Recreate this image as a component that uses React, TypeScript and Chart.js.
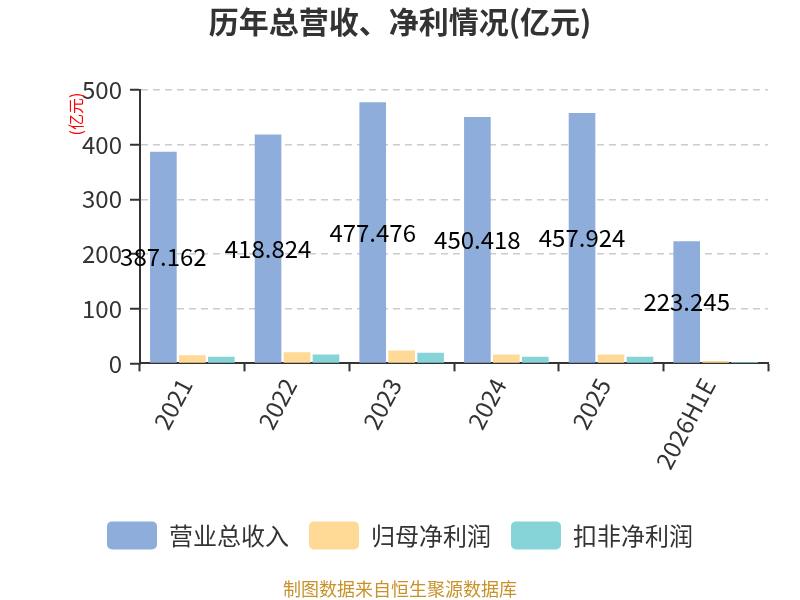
import { useEffect, useRef } from "react"
import { Chart, registerables } from "chart.js"

Chart.register(...registerables)

const FONT = "'Noto Sans CJK SC', 'Noto Sans', sans-serif"

// 年份
const categories = ["2021", "2022", "2023", "2024", "2025", "2026H1E"]
// 营业总收入 (亿元)
const revenue = [387.162, 418.824, 477.476, 450.418, 457.924, 223.245]
// 归母净利润 (亿元，读图估计)
const netProfit = [15.0, 20.6, 23.8, 16.5, 16.5, 4.2]
// 扣非净利润 (亿元，读图估计)
const deductedProfit = [12.2, 16.4, 19.6, 12.3, 12.3, 2.7]
// y 轴刻度
const yTicks = [0, 100, 200, 300, 400, 500]

const seriesNames = ["营业总收入", "归母净利润", "扣非净利润"]
const seriesColors = ["#8eaddb", "#ffd996", "#86d4d8"]

// 柱子中间的数值标签（只标营业总收入）
const barLabels = {
  id: "barLabels",
  afterDatasetsDraw(chart: Chart) {
    const ctx = chart.ctx
    const meta = chart.getDatasetMeta(0)
    ctx.save()
    ctx.font = `24px ${FONT}`
    ctx.fillStyle = "#000"
    ctx.textAlign = "center"
    ctx.textBaseline = "middle"
    meta.data.forEach((bar: any, i) => {
      const y = (bar.y + bar.base) / 2
      ctx.fillText(revenue[i].toFixed(3), bar.x, y)
    })
    ctx.restore()
  },
}

// y 轴单位
const unitLabel = {
  id: "unitLabel",
  afterDraw(chart: Chart) {
    const ctx = chart.ctx
    const top = chart.chartArea.top
    ctx.save()
    ctx.translate(76, top + 24)
    ctx.rotate(-Math.PI / 2)
    ctx.font = `16px ${FONT}`
    ctx.fillStyle = "#ff0000"
    ctx.textAlign = "center"
    ctx.textBaseline = "middle"
    ctx.fillText("(亿元)", 0, 0)
    ctx.restore()
  },
}

export default function App() {
  const chartRef = useRef<HTMLCanvasElement>(null)
  const chartInstance = useRef<Chart | null>(null)

  useEffect(() => {
    if (!chartRef.current) return
    if (chartInstance.current) {
      chartInstance.current.destroy()
    }

    const values = [revenue, netProfit, deductedProfit]

    chartInstance.current = new Chart(chartRef.current, {
      type: "bar",
      data: {
        labels: categories,
        datasets: values.map((d, i) => ({
          label: seriesNames[i],
          data: d,
          backgroundColor: seriesColors[i],
          borderWidth: 0,
          categoryPercentage: 0.83,
          barPercentage: 0.92,
        })),
      },
      options: {
        animation: false,
        responsive: true,
        maintainAspectRatio: false,
        layout: { padding: { left: 32, right: 32, top: 0, bottom: 0 } },
        plugins: {
          title: {
            display: true,
            text: "历年总营收、净利情况(亿元)",
            color: "#333",
            font: { family: FONT, size: 30, weight: "bold" },
            padding: { top: 4, bottom: 50 },
          },
          legend: {
            position: "bottom",
            labels: {
              boxWidth: 50,
              boxHeight: 28,
              useBorderRadius: true,
              borderRadius: 5,
              padding: 20,
              color: "#333",
              font: { family: FONT, size: 24 },
            },
          },
          subtitle: {
            display: true,
            position: "bottom",
            text: "制图数据来自恒生聚源数据库",
            color: "#c8922a",
            font: { family: FONT, size: 18 },
            padding: { top: 19, bottom: 0 },
          },
          tooltip: { enabled: false },
        },
        scales: {
          x: {
            afterFit(scale: any) {
              scale.height = 138
            },
            grid: {
              offset: true,
              drawOnChartArea: false,
              tickLength: 8,
              tickColor: "#333",
              tickWidth: 2,
            },
            border: { color: "#333", width: 2 },
            ticks: {
              color: "#333",
              font: { family: FONT, size: 24 },
              minRotation: 62,
              maxRotation: 62,
              padding: 2,
              labelOffset: -7,
            },
          },
          y: {
            min: 0,
            max: 500,
            afterFit(scale: any) {
              scale.width = 108
            },
            afterBuildTicks(scale: any) {
              scale.ticks = yTicks.map((v) => ({ value: v }))
            },
            grid: {
              color: (c: any) => (c.tick && c.tick.value === 0 ? "rgba(0,0,0,0)" : "#cccccc"),
              lineWidth: 1.5,
              tickLength: 10,
              tickColor: "#333",
              tickWidth: 2,
            },
            border: { color: "#333", width: 2, dash: [7, 5] },
            ticks: {
              color: "#333",
              font: { family: FONT, size: 24 },
              padding: 8,
            },
          },
        },
      },
      plugins: [barLabels, unitLabel],
    })

    return () => {
      if (chartInstance.current) {
        chartInstance.current.destroy()
        chartInstance.current = null
      }
    }
  }, [])

  return (
    <div style={{ position: "fixed", left: 0, top: 0, width: 800, height: 600, background: "#fff" }}>
      <canvas ref={chartRef} />
    </div>
  )
}
